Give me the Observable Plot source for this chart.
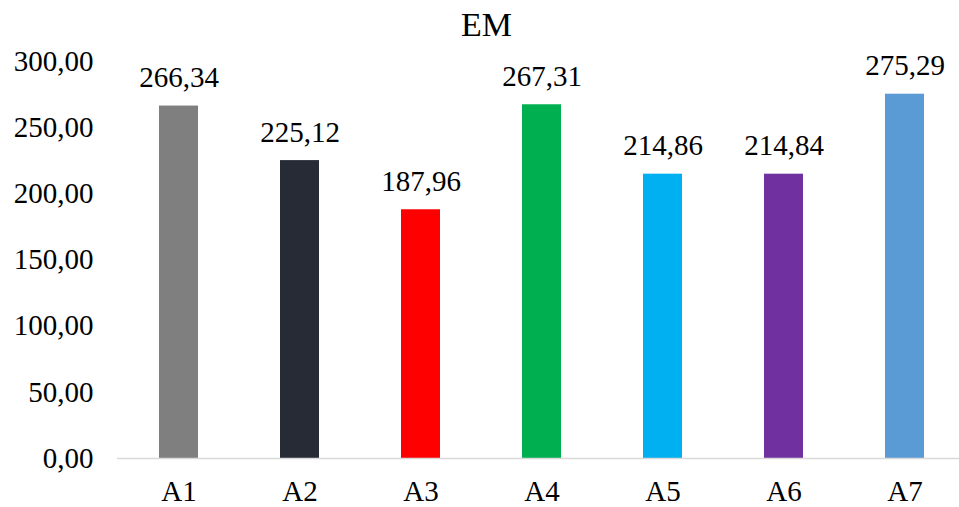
<!DOCTYPE html>
<html>
<head>
<meta charset="utf-8">
<script src="https://cdn.jsdelivr.net/npm/d3@7"></script>
<script src="https://cdn.jsdelivr.net/npm/@observablehq/plot@0.6"></script>
<style>
  html, body { margin: 0; padding: 0; background: #fff; }
  #wrap { width: 959px; height: 507px; position: relative; font-family: "Liberation Serif", "Times New Roman", serif; }
  #title { position: absolute; left: 0; top: 0; width: 959px; height: 45px; text-align: center; font-size: 34px; line-height: 50px; color: #000; padding-left: 14px; box-sizing: border-box; }
  #chart { position: absolute; left: 0; top: 45px; }
</style>
</head>
<body>
<div id="wrap">
  <div id="title">EM</div>
  <div id="chart"></div>
</div>
<script>
const categories = ["A1", "A2", "A3", "A4", "A5", "A6", "A7"];
const values = [266.34, 225.12, 187.96, 267.31, 214.86, 214.84, 275.29];
const colors = ["#7f7f7f", "#262b36", "#ff0000", "#00b050", "#00b0f0", "#7030a0", "#5b9bd5"];
const yTicks = [0, 50, 100, 150, 200, 250, 300];

const data = categories.map((c, i) => ({cat: c, value: values[i], color: colors[i]}));
const fmt = v => v.toFixed(2).replace(".", ",");

const chart = Plot.plot({
  width: 959,
  height: 462,
  marginTop: 16,
  marginBottom: 49,
  marginLeft: 117,
  marginRight: 0,
  style: {fontFamily: "'Liberation Serif', 'Times New Roman', serif", fontSize: "29px", color: "#000", background: "transparent"},
  x: {domain: categories, range: [117, 966], paddingInner: 0.68, paddingOuter: 0.34, label: null},
  y: {domain: [0, 300], label: null},
  marks: [
    Plot.axisY({ticks: yTicks, tickFormat: fmt, tickSize: 0, tickPadding: 24, fontSize: 29, label: null}),
    Plot.axisX({tickSize: 0, tickPadding: 22, fontSize: 29, label: null}),
    Plot.barY(data, {x: "cat", y: "value", fill: "color"}),
    Plot.ruleY([0], {stroke: "#d9d9d9", strokeWidth: 1.5}),
    Plot.text(data, {x: "cat", y: "value", text: d => fmt(d.value), dy: -28, fontSize: 29, fill: "#000"})
  ]
});
document.getElementById("chart").appendChild(chart);
</script>
</body>
</html>
